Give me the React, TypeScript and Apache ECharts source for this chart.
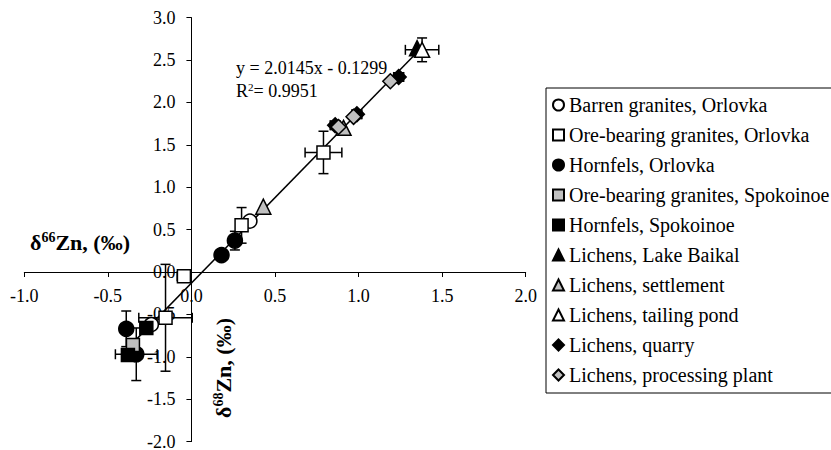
import React, { useEffect, useRef } from "react";
import * as echarts from "echarts";

// Axis ranges and tick step
const xRange = [-1.0, 2.0];
const yRange = [-2.0, 3.0];
const tickStep = 0.5;

// Series values [δ66Zn, δ68Zn]
const barrenOrlovka = [[0.35, 0.60], [-0.24, -0.62]];
const oreOrlovka = [[0.30, 0.55], [0.79, 1.41], [-0.045, -0.05], [-0.155, -0.54]];
const hornfelsOrlovka = [[0.18, 0.20], [0.26, 0.37], [-0.39, -0.67], [-0.33, -0.97]];
const oreSpokoinoe = [[-0.35, -0.86]];
const hornfelsSpokoinoe = [[-0.27, -0.66], [-0.38, -0.98]];
const lichensBaikal = [[1.35, 2.64]];
const lichensSettlement = [[0.43, 0.77], [0.91, 1.70]];
const lichensTailing = [[1.38, 2.62]];
const lichensQuarry = [[0.86, 1.73], [0.99, 1.86], [1.24, 2.30]];
const lichensProcessing = [[0.97, 1.83], [1.19, 2.25], [0.88, 1.71]];

// Error bars [x, y, xErr, yErr]
const errorBars = [
  [-0.39, -0.67, 0, 0.21],
  [-0.33, -0.97, 0.125, 0.31],
  [-0.155, -0.54, 0.16, 0.63],
  [-0.045, -0.05, 0.04, 0.03],
  [0.30, 0.55, 0.03, 0.21],
  [0.26, 0.37, 0.03, 0.11],
  [0.79, 1.41, 0.11, 0.25],
  [0.86, 1.73, 0.03, 0.05],
  [0.99, 1.86, 0.03, 0.05],
  [1.24, 2.30, 0.03, 0.05],
  [1.38, 2.62, 0.10, 0.14],
];

// Trend line endpoints (y = 2.0145x - 0.1299)
const trendLine = [[-0.40, -0.936], [1.39, 2.67]];
const equationText = "y = 2.0145x - 0.1299";
const r2Text = "{t|R}{s|2}{t|= 0.9951}";
const xTitle = "{b|δ}{s|66}{b|Zn, (‰)}";
const yTitle = "{b|δ}{s|68}{b|Zn, (‰)}";

const FONT = "Liberation Serif";

const seriesDefs = [
  { name: "Barren granites, Orlovka", data: barrenOrlovka, symbol: "circle", size: 14, fill: "#ffffff" },
  { name: "Ore-bearing granites, Orlovka", data: oreOrlovka, symbol: "rect", size: 13, fill: "#ffffff" },
  { name: "Hornfels, Orlovka", data: hornfelsOrlovka, symbol: "circle", size: 15, fill: "#000000" },
  { name: "Ore-bearing granites, Spokoinoe", data: oreSpokoinoe, symbol: "rect", size: 13, fill: "#c0c0c0" },
  { name: "Hornfels, Spokoinoe", data: hornfelsSpokoinoe, symbol: "rect", size: 13, fill: "#000000" },
  { name: "Lichens, Lake Baikal", data: lichensBaikal, symbol: "triangle", size: 15, fill: "#000000" },
  { name: "Lichens, settlement", data: lichensSettlement, symbol: "triangle", size: 15, fill: "#c0c0c0" },
  { name: "Lichens, tailing pond", data: lichensTailing, symbol: "triangle", size: 15, fill: "#ffffff" },
  { name: "Lichens, quarry", data: lichensQuarry, symbol: "diamond", size: 15, fill: "#000000" },
  { name: "Lichens, processing plant", data: lichensProcessing, symbol: "diamond", size: 15, fill: "#c0c0c0" },
];

export default function App() {
  const ref = useRef<HTMLDivElement>(null);
  useEffect(() => {
    if (!ref.current) return;
    const chart = echarts.init(ref.current, null, { renderer: "svg" });
    const fmt = (v: number) => v.toFixed(1);
    const gridLeft = 24.3;
    const gridTop = 17.6;
    const gridW = 501.4;
    const gridH = 424;
    const titleRich = {
      b: { fontFamily: FONT, fontSize: 22, fontWeight: "bold", fill: "#000", color: "#000", lineHeight: 24 },
      s: { fontFamily: FONT, fontSize: 14, fontWeight: "bold", fill: "#000", color: "#000", verticalAlign: "top", lineHeight: 24, padding: [0, 0, 9, 0] },
    };
    const option: any = {
      animation: false,
      backgroundColor: "#ffffff",
      textStyle: { fontFamily: FONT, color: "#000" },
      grid: { left: gridLeft, top: gridTop, width: gridW, height: gridH, containLabel: false, outerBoundsMode: "none" },
      xAxis: {
        type: "value",
        min: xRange[0],
        max: xRange[1],
        interval: tickStep,
        position: "bottom",
        offset: -gridH * (0 - yRange[0]) / (yRange[1] - yRange[0]),
        axisLine: { onZero: false, lineStyle: { color: "#000", width: 1 } },
        axisTick: { show: true, length: 5, lineStyle: { color: "#000" } },
        axisLabel: { formatter: fmt, color: "#000", fontFamily: FONT, fontSize: 18, margin: 15 },
        splitLine: { show: false },
      },
      yAxis: {
        type: "value",
        min: yRange[0],
        max: yRange[1],
        interval: tickStep,
        position: "left",
        offset: -gridW * (0 - xRange[0]) / (xRange[1] - xRange[0]),
        axisLine: { onZero: false, lineStyle: { color: "#000", width: 1 } },
        axisTick: { show: true, length: 5, lineStyle: { color: "#000" } },
        axisLabel: { formatter: fmt, color: "#000", fontFamily: FONT, fontSize: 18, margin: 16 },
        splitLine: { show: false },
      },
      legend: {
        orient: "vertical",
        left: 546,
        top: 88,
        padding: [7, 40, 8, 6],
        borderColor: "#000",
        borderWidth: 1,
        itemWidth: 11,
        itemHeight: 11,
        itemGap: 10,
        selectedMode: false,
        textStyle: { fontFamily: FONT, fontSize: 20, color: "#000", lineHeight: 20 },
        formatter: (name: string) => `{l|${name}}`,
        data: seriesDefs.map((s) => s.name),
      },
      graphic: [
        {
          type: "text",
          x: 236,
          y: 68,
          style: { text: equationText, font: `18px ${FONT}`, fill: "#000", verticalAlign: "middle", align: "left" },
        },
        {
          type: "text",
          x: 236,
          y: 91,
          style: {
            text: r2Text,
            fill: "#000",
            verticalAlign: "middle",
            align: "left",
            rich: {
              t: { fontFamily: FONT, fontSize: 18, fill: "#000", lineHeight: 20 },
              s: { fontFamily: FONT, fontSize: 11, fill: "#000", lineHeight: 20, verticalAlign: "top", padding: [0, 0, 8, 0] },
            },
          },
        },
        {
          type: "text",
          x: 30,
          y: 242,
          style: { text: xTitle, fill: "#000", verticalAlign: "middle", align: "left", rich: titleRich },
        },
        {
          type: "text",
          x: 223,
          y: 368,
          rotation: Math.PI / 2,
          style: { text: yTitle, fill: "#000", verticalAlign: "middle", align: "center", rich: titleRich },
        },
      ],
      series: [
        {
          name: "trend",
          type: "line",
          data: trendLine,
          symbol: "none",
          lineStyle: { color: "#000", width: 1.5 },
          z: 1,
          silent: true,
        },
        {
          name: "errors",
          type: "custom",
          data: errorBars,
          encode: { x: 0, y: 1 },
          z: 2,
          silent: true,
          renderItem: (params: any, api: any) => {
            const x = api.value(0);
            const y = api.value(1);
            const xe = api.value(2);
            const ye = api.value(3);
            const cap = 5;
            const st = { stroke: "#000", lineWidth: 1.5 };
            const children: any[] = [];
            if (xe > 0) {
              const l = api.coord([x - xe, y]);
              const r = api.coord([x + xe, y]);
              children.push({ type: "line", shape: { x1: l[0], y1: l[1], x2: r[0], y2: r[1] }, style: st });
              children.push({ type: "line", shape: { x1: l[0], y1: l[1] - cap, x2: l[0], y2: l[1] + cap }, style: st });
              children.push({ type: "line", shape: { x1: r[0], y1: r[1] - cap, x2: r[0], y2: r[1] + cap }, style: st });
            }
            if (ye > 0) {
              const b = api.coord([x, y - ye]);
              const t = api.coord([x, y + ye]);
              children.push({ type: "line", shape: { x1: b[0], y1: b[1], x2: t[0], y2: t[1] }, style: st });
              children.push({ type: "line", shape: { x1: b[0] - cap, y1: b[1], x2: b[0] + cap, y2: b[1] }, style: st });
              children.push({ type: "line", shape: { x1: t[0] - cap, y1: t[1], x2: t[0] + cap, y2: t[1] }, style: st });
            }
            return { type: "group", children };
          },
        },
        ...seriesDefs.map((s, i) => ({
          name: s.name,
          type: "scatter",
          data: s.data,
          symbol: s.symbol,
          symbolSize: s.size,
          z: 3 + i,
          itemStyle: { color: s.fill, borderColor: "#000", borderWidth: 1.5, opacity: 1 },
        })),
      ],
    };
    option.legend.textStyle.rich = {
      l: { fontFamily: FONT, fontSize: 20, color: "#000", lineHeight: 20 },
    };
    chart.setOption(option);
    return () => chart.dispose();
  }, []);
  return (
    <div
      ref={ref}
      style={{ position: "fixed", left: 0, top: 0, width: 831, height: 450, background: "#fff" }}
    />
  );
}
